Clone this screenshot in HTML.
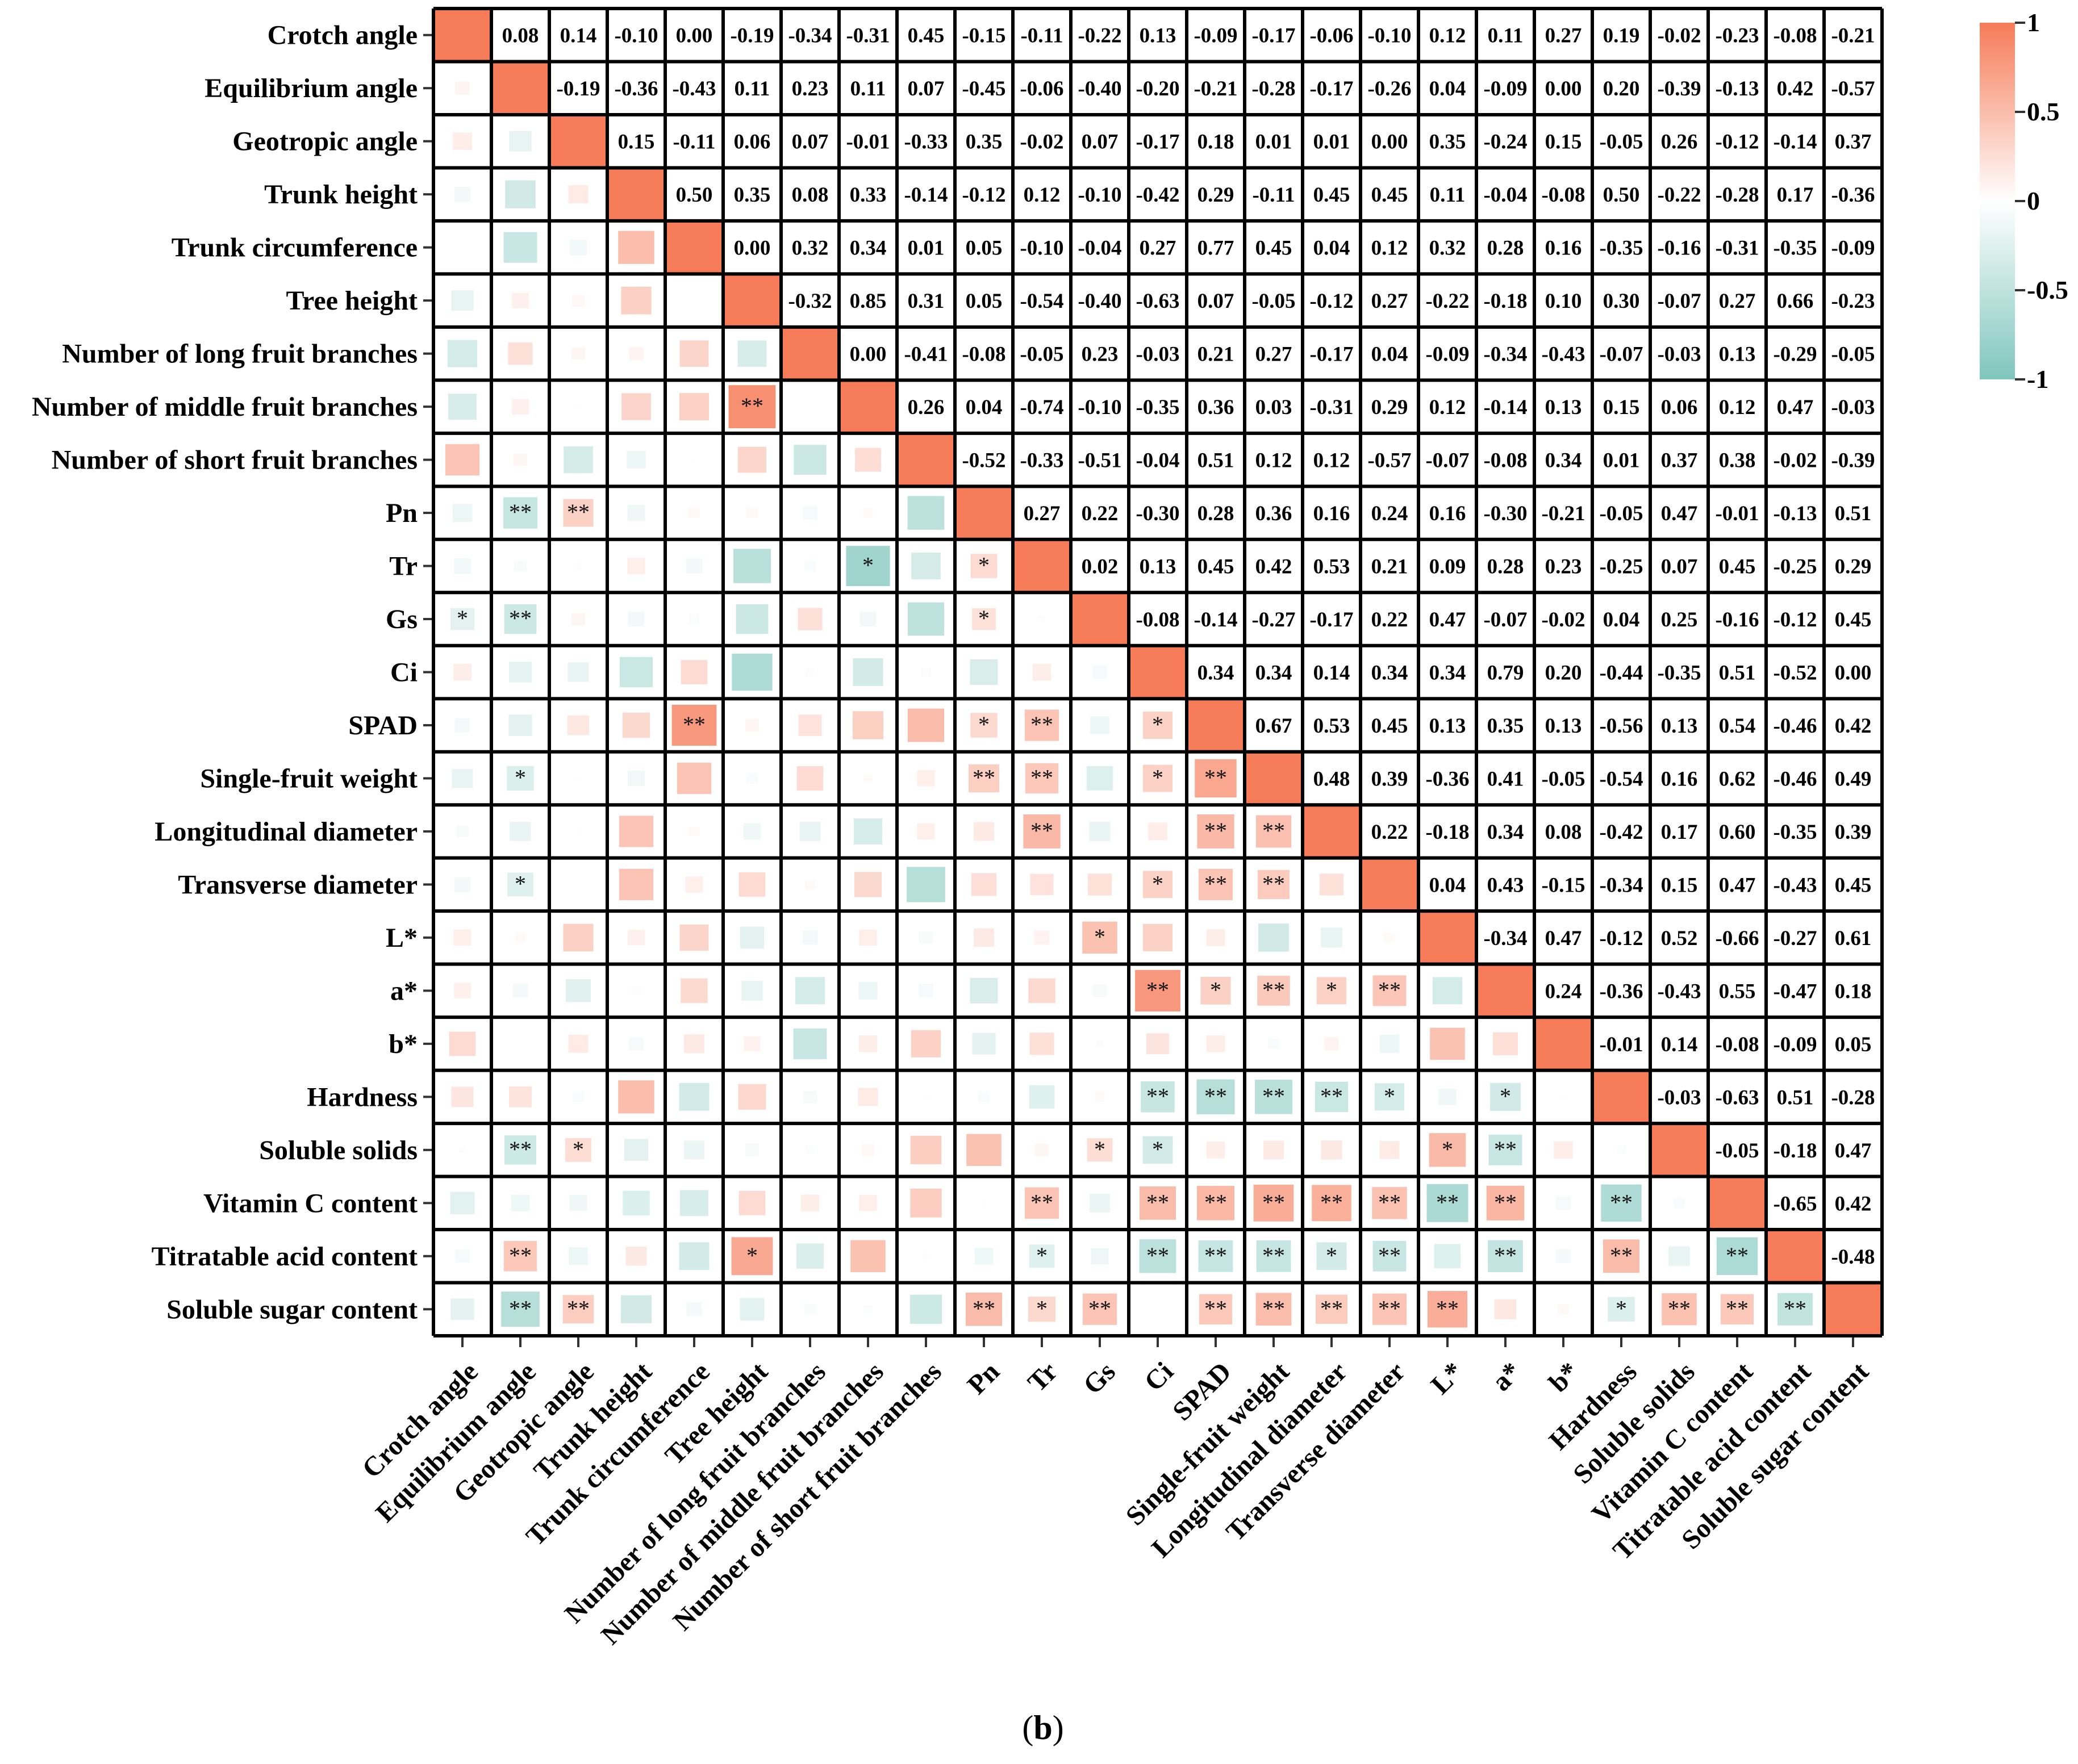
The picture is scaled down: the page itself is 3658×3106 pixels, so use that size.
<!DOCTYPE html>
<html><head><meta charset="utf-8"><style>
html,body{margin:0;padding:0;background:#fff;}
svg{display:block;font-family:"Liberation Serif","Times New Roman",serif;}
svg text{font-family:"Liberation Serif","Times New Roman",serif;}
</style></head><body>
<svg id="chart" width="3658" height="3106" viewBox="0 0 3658 3106" xmlns="http://www.w3.org/2000/svg" font-family="Liberation Serif, serif">
<defs>
<linearGradient id="cbg" x1="0" y1="0" x2="0" y2="1">
<stop offset="0" stop-color="#F67B58"/><stop offset="0.5" stop-color="#ffffff"/><stop offset="1" stop-color="#7FC6BD"/>
</linearGradient>
</defs>
<g id="grid"></g>
<g id="labels"></g>
<g id="cbar">
<rect x="3485" y="40" width="62" height="628" fill="url(#cbg)"/>
</g>
<text x="1836" y="3062" font-size="60" text-anchor="middle">(<tspan font-weight="bold">b</tspan>)</text>
</svg>
<script>
const labels=["Crotch angle","Equilibrium angle","Geotropic angle","Trunk height","Trunk circumference","Tree height","Number of long fruit branches","Number of middle fruit branches","Number of short fruit branches","Pn","Tr","Gs","Ci","SPAD","Single-fruit weight","Longitudinal diameter","Transverse diameter","L*","a*","b*","Hardness","Soluble solids","Vitamin C content","Titratable acid content","Soluble sugar content"];
const upperRows=[
[0.08,0.14,-0.10,0.00,-0.19,-0.34,-0.31,0.45,-0.15,-0.11,-0.22,0.13,-0.09,-0.17,-0.06,-0.10,0.12,0.11,0.27,0.19,-0.02,-0.23,-0.08,-0.21],
[-0.19,-0.36,-0.43,0.11,0.23,0.11,0.07,-0.45,-0.06,-0.40,-0.20,-0.21,-0.28,-0.17,-0.26,0.04,-0.09,0.00,0.20,-0.39,-0.13,0.42,-0.57],
[0.15,-0.11,0.06,0.07,-0.01,-0.33,0.35,-0.02,0.07,-0.17,0.18,0.01,0.01,0.00,0.35,-0.24,0.15,-0.05,0.26,-0.12,-0.14,0.37],
[0.50,0.35,0.08,0.33,-0.14,-0.12,0.12,-0.10,-0.42,0.29,-0.11,0.45,0.45,0.11,-0.04,-0.08,0.50,-0.22,-0.28,0.17,-0.36],
[0.00,0.32,0.34,0.01,0.05,-0.10,-0.04,0.27,0.77,0.45,0.04,0.12,0.32,0.28,0.16,-0.35,-0.16,-0.31,-0.35,-0.09],
[-0.32,0.85,0.31,0.05,-0.54,-0.40,-0.63,0.07,-0.05,-0.12,0.27,-0.22,-0.18,0.10,0.30,-0.07,0.27,0.66,-0.23],
[0.00,-0.41,-0.08,-0.05,0.23,-0.03,0.21,0.27,-0.17,0.04,-0.09,-0.34,-0.43,-0.07,-0.03,0.13,-0.29,-0.05],
[0.26,0.04,-0.74,-0.10,-0.35,0.36,0.03,-0.31,0.29,0.12,-0.14,0.13,0.15,0.06,0.12,0.47,-0.03],
[-0.52,-0.33,-0.51,-0.04,0.51,0.12,0.12,-0.57,-0.07,-0.08,0.34,0.01,0.37,0.38,-0.02,-0.39],
[0.27,0.22,-0.30,0.28,0.36,0.16,0.24,0.16,-0.30,-0.21,-0.05,0.47,-0.01,-0.13,0.51],
[0.02,0.13,0.45,0.42,0.53,0.21,0.09,0.28,0.23,-0.25,0.07,0.45,-0.25,0.29],
[-0.08,-0.14,-0.27,-0.17,0.22,0.47,-0.07,-0.02,0.04,0.25,-0.16,-0.12,0.45],
[0.34,0.34,0.14,0.34,0.34,0.79,0.20,-0.44,-0.35,0.51,-0.52,0.00],
[0.67,0.53,0.45,0.13,0.35,0.13,-0.56,0.13,0.54,-0.46,0.42],
[0.48,0.39,-0.36,0.41,-0.05,-0.54,0.16,0.62,-0.46,0.49],
[0.22,-0.18,0.34,0.08,-0.42,0.17,0.60,-0.35,0.39],
[0.04,0.43,-0.15,-0.34,0.15,0.47,-0.43,0.45],
[-0.34,0.47,-0.12,0.52,-0.66,-0.27,0.61],
[0.24,-0.36,-0.43,0.55,-0.47,0.18],
[-0.01,0.14,-0.08,-0.09,0.05],
[-0.03,-0.63,0.51,-0.28],
[-0.05,-0.18,0.47],
[-0.65,0.42],
[-0.48]
];
const stars=[[7,5,"**"],[9,1,"**"],[9,2,"**"],[10,7,"*"],[10,9,"*"],[11,0,"*"],[11,1,"**"],[11,9,"*"],
[13,4,"**"],[13,9,"*"],[13,10,"**"],[13,12,"*"],[14,1,"*"],[14,9,"**"],[14,10,"**"],[14,12,"*"],[14,13,"**"],
[15,10,"**"],[15,13,"**"],[15,14,"**"],[16,1,"*"],[16,12,"*"],[16,13,"**"],[16,14,"**"],[17,11,"*"],
[18,12,"**"],[18,13,"*"],[18,14,"**"],[18,15,"*"],[18,16,"**"],
[20,12,"**"],[20,13,"**"],[20,14,"**"],[20,15,"**"],[20,16,"*"],[20,18,"*"],
[21,1,"**"],[21,2,"*"],[21,11,"*"],[21,12,"*"],[21,17,"*"],[21,18,"**"],
[22,10,"**"],[22,12,"**"],[22,13,"**"],[22,14,"**"],[22,15,"**"],[22,16,"**"],[22,17,"**"],[22,18,"**"],[22,20,"**"],
[23,1,"**"],[23,5,"*"],[23,10,"*"],[23,12,"**"],[23,13,"**"],[23,14,"**"],[23,15,"*"],[23,16,"**"],[23,18,"**"],[23,20,"**"],[23,22,"**"],
[24,1,"**"],[24,2,"**"],[24,9,"**"],[24,10,"*"],[24,11,"**"],[24,13,"**"],[24,14,"**"],[24,15,"**"],[24,16,"**"],[24,17,"**"],[24,20,"*"],[24,21,"**"],[24,22,"**"],[24,23,"**"]];
const cbTicks=[1,0.5,0,-0.5,-1];
const cbTickLabels=["1","0.5","0","-0.5","-1"];

const NS="http://www.w3.org/2000/svg";
const FF='"Liberation Serif", serif';
const N=labels.length, X0=763, Y0=15, W=2550, H=2337, CW=W/N, CH=H/N;
const xs=i=>X0+i*CW, ys=i=>Y0+i*CH;
function mk(tag,attrs,parent){const e=document.createElementNS(NS,tag);for(const k in attrs)e.setAttribute(k,attrs[k]);if(tag==="text")e.setAttribute("font-family",FF);parent.appendChild(e);return e;}
function mix(a,b,t){return "rgb("+a.map((v,i)=>Math.round(v+(b[i]-v)*t)).join(",")+")";}
const POS=[246,123,88], NEG=[127,198,189], WH=[255,255,255];
function col(r){return r>=0?mix(WH,POS,Math.min(1,r)):mix(WH,NEG,Math.min(1,-r));}
const R=[];for(let i=0;i<N;i++){R.push(new Array(N).fill(1));}
upperRows.forEach((row,i)=>row.forEach((v,k)=>{const j=i+1+k;R[i][j]=v;R[j][i]=v;}));
const g=document.getElementById("grid"), lg=document.getElementById("labels");
for(let i=0;i<N;i++)for(let j=0;j<N;j++){
  const cx=xs(j)+CW/2, cy=ys(i)+CH/2, r=R[i][j];
  if(i===j){
    const d=mk("rect",{x:xs(j),y:ys(i),width:CW,height:CH,fill:"#F67B58"},g);
    
    
  } else if(j>i){
    const t=mk("text",{x:cx,y:cy+13,"font-size":37,"font-weight":"bold","text-anchor":"middle"},g);
    t.textContent=r.toFixed(2);
    
    
  } else {
    const f=Math.sqrt(Math.abs(r))*0.88, w=CW*f, h=CH*f;
    if(w>0){
      const s=mk("rect",{x:cx-w/2,y:cy-h/2,width:w,height:h,fill:col(r)},g);
      
      
    }
  }
}
stars.forEach(([i,j,s])=>{
  const t=mk("text",{x:xs(j)+CW/2,y:ys(i)+CH/2+12,"font-size":40,"text-anchor":"middle",fill:"#111"},g);
  t.textContent=s;
  
  
});
for(let k=0;k<=N;k++){
  mk("line",{x1:xs(k),y1:Y0,x2:xs(k),y2:Y0+H,stroke:"#000","stroke-width":6},g);
  mk("line",{x1:X0,y1:ys(k),x2:X0+W,y2:ys(k),stroke:"#000","stroke-width":6},g);
}
labels.forEach((name,i)=>{
  const cy=ys(i)+CH/2;
  mk("line",{x1:745,y1:cy,x2:760,y2:cy,stroke:"#333","stroke-width":4},lg);
  const t=mk("text",{x:735,y:cy+16,"font-size":48,"font-weight":"bold","text-anchor":"end"},lg);
  t.textContent=name;
  
  
  const cx=xs(i)+CW/2;
  mk("line",{x1:cx,y1:Y0+H+3,x2:cx,y2:Y0+H+20,stroke:"#333","stroke-width":4},lg);
  const tx=cx+30, ty=2418;
  const u=mk("text",{x:tx,y:ty,"font-size":48,"font-weight":"bold","text-anchor":"end",transform:`rotate(-45 ${tx} ${ty})`},lg);
  u.textContent=name;
  
  
});
const cb=document.getElementById("cbar");
const cbY=v=>40+(1-v)/2*628;
cbTicks.forEach((v,k)=>{
  const y=cbY(v);
  mk("line",{x1:3547,y1:y,x2:3565,y2:y,stroke:"#333","stroke-width":4},cb);
  const t=mk("text",{x:3568,y:y+15,"font-size":46,"font-weight":"bold"},cb);
  t.textContent=cbTickLabels[k];
  
  
});
</script>
</body></html>
